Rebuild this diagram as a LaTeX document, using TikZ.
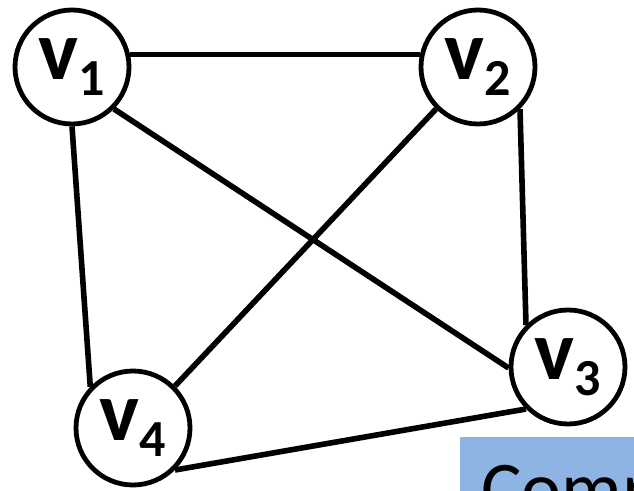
\documentclass[tikz,border=0pt]{standalone}
\usepackage{fontspec}
\setmainfont{Carlito}
\definecolor{captionblue}{RGB}{142,180,227}
\newcommand{\vname}[1]{{\bfseries\fontsize{60}{60}\selectfont v}\raisebox{-0.4cm}{\bfseries\fontsize{37}{37}\selectfont #1}}
\tikzset{vertex/.style={draw, circle, line width=0.12cm, fill=white, inner sep=0pt, minimum size=2.85cm},
  edge/.style={line width=0.14cm}}
\begin{document}
\begin{tikzpicture}%
\useasboundingbox (0, 0) rectangle (15.850000, -12.275000);%
\fill[captionblue] (11.500000, -10.925000) rectangle (16.000000, -12.500000);%
\node[anchor=base west, inner sep=0pt, font=\fontsize{54}{60}\selectfont] (caption) at (12.030000, -12.850000) {Comp};%
\node[vertex] (v1) at (1.800000, -1.675000) {\vname{1}};%
\node[vertex] (v2) at (11.950000, -1.675000) {\vname{2}};%
\node[vertex] (v3) at (14.200000, -9.175000) {\vname{3}};%
\node[vertex] (v4) at (3.325000, -10.700000) {\vname{4}};%
\draw[edge] (v1.12) -- (v2.168);%
\draw[edge] (v1.270) -- (v4.136);%
\draw[edge] (v1.315) -- (v3.181);%
\draw[edge] (v2.225) -- (v4.45);%
\draw[edge] (v2.315) -- (v3.135);%
\draw[edge] (v3.225) -- (v4.315);%
\end{tikzpicture}
\end{document}
